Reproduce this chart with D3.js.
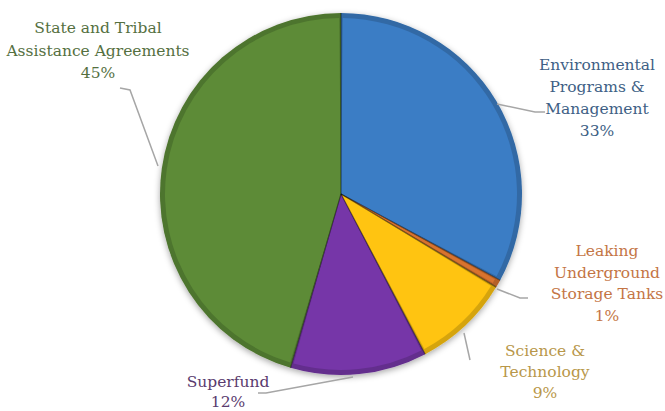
<!DOCTYPE html>
<html><head><meta charset="utf-8">
<script src="https://cdn.jsdelivr.net/npm/d3@7"></script>
<style>html,body{margin:0;padding:0;background:#fff;}</style>
</head><body>
<svg id="chart" width="665" height="411"></svg>
<script>
const categories = ["Environmental Programs & Management","Leaking Underground Storage Tanks","Science & Technology","Superfund","State and Tribal Assistance Agreements"];
// slice shares (labels show rounded percentages)
const values = [32.9, 0.7, 8.7, 12.2, 45.5];
const percentLabels = ["33%","1%","9%","12%","45%"];
const nameLines = [["Environmental","Programs &","Management"],["Leaking","Underground","Storage Tanks"],["Science &","Technology"],["Superfund"],["State and Tribal","Assistance Agreements"]];
const colors = ["#3b7dc5","#d8732e","#ffc411","#7636a8","#5d8b37"];
const labelColors = ["#405f85","#c47545","#b8974a","#5a3b6e","#55703f"];

const svg = d3.select("#chart");
const cx = 341, cy = 194, R = 181;
const defs = svg.append("defs");
const f = defs.append("filter").attr("id","sh").attr("x","-20%").attr("y","-20%").attr("width","140%").attr("height","140%");
f.append("feDropShadow").attr("dx",0).attr("dy",2).attr("stdDeviation",3).attr("flood-color","#000").attr("flood-opacity",0.35);

const pie = d3.pie().sort(null).value(d=>d);
const arcs = pie(values);
const arc = d3.arc().innerRadius(0).outerRadius(R);
const arcIn = d3.arc().innerRadius(0).outerRadius(R-5);
const g = svg.append("g").attr("transform",`translate(${cx},${cy})`);
g.append("g").attr("filter","url(#sh)").selectAll("path").data(arcs).join("path")
  .attr("d",arc).attr("fill",(d,i)=>d3.color(colors[i]).darker(0.5));
g.selectAll("path.face").data(arcs).join("path").attr("class","face")
  .attr("d",d=>arcIn({startAngle:d.startAngle+0.01,endAngle:d.endAngle-0.01}))
  .attr("fill",(d,i)=>colors[i]);
g.selectAll("line.sep").data(arcs).join("line").attr("class","sep")
  .attr("x1",0).attr("y1",0)
  .attr("x2",d=>R*Math.sin(d.startAngle)).attr("y2",d=>-R*Math.cos(d.startAngle))
  .attr("stroke","rgba(0,0,0,0.45)").attr("stroke-width",1.2);

const leaders = [
  [[497,104],[535,112],[545,112]],
  [[497,289],[520,298],[528,298]],
  [[464,333],[470,360]],
  [[353,377],[266,393],[258,393]],
  [[158,166],[130,90],[120,88]]
];
svg.append("g").selectAll("path").data(leaders).join("path")
  .attr("d",d=>d3.line()(d)).attr("fill","none").attr("stroke","#a6a6a6").attr("stroke-width",1.5);

const labelPos = [[597,65,22],[607,251,21.5],[545,351,21],[228,382,20],[98,28,22.5]];
const lg = svg.append("g").attr("font-family","'DejaVu Serif', serif").attr("font-size","15.5px").attr("text-anchor","middle");
nameLines.forEach((lines,i)=>{
  const t = lg.append("text").attr("fill",labelColors[i]);
  lines.concat([percentLabels[i]]).forEach((s,j)=>{
    t.append("tspan").attr("x",labelPos[i][0]).attr("y",labelPos[i][1]+j*labelPos[i][2]).attr("dy","0.35em").text(s);
  });
});
</script>
</body></html>
